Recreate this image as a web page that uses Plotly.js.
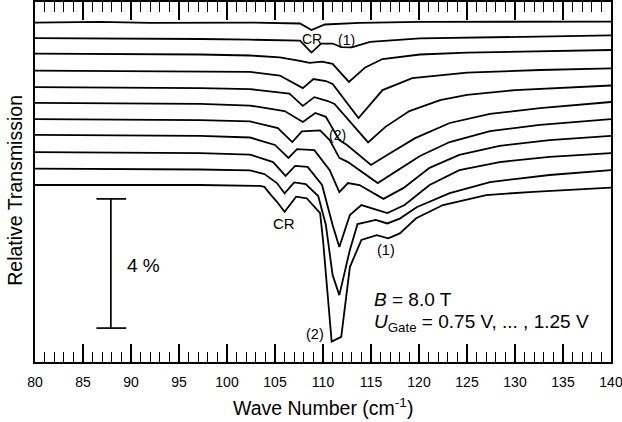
<!DOCTYPE html>
<html><head><meta charset="utf-8">
<script src="https://cdn.plot.ly/plotly-3.0.1.min.js"></script>
<style>html,body{margin:0;padding:0;background:#fff;} #chart{width:622px;height:422px;}</style>
</head><body><div id="chart"></div>
<script>
// Vertical offsets of the stacked spectra (%), top to bottom
const offsets = [10.5, 10.0, 9.5, 9.0, 8.5, 8.0, 7.5, 7.0, 6.5, 6.0, 5.5];

// Wave numbers (cm^-1) and transmission change (%) for each gate voltage, top to bottom
const wn1 = [80, 86.7, 92.0, 97.2, 102.4, 107.6, 108.8, 110.2, 113.8, 120.1, 128.4, 140];
const dT1 = [0.01, 0.03, 0.00, 0.01, 0.01, -0.02, -0.22, -0.05, 0.00, 0.03, 0.03, 0.04];
const wn2 = [80, 86.7, 92.0, 97.2, 102.4, 107.6, 108.8, 109.8, 111.0, 111.9, 113.0, 114.9, 120.1, 128.4, 140];
const dT2 = [0.03, 0.02, 0.02, 0.00, -0.02, -0.05, -0.42, -0.14, -0.14, -0.25, -0.26, -0.09, 0.02, 0.06, 0.11];
const wn3 = [80, 86.7, 92.0, 97.2, 102.4, 105.5, 107.6, 108.6, 109.9, 111.0, 112.7, 114.4, 116.2, 120.1, 125.0, 132.6, 140];
const dT3 = [0.05, 0.04, 0.04, 0.02, -0.01, -0.07, -0.18, -0.24, -0.20, -0.27, -0.83, -0.38, -0.12, 0.02, 0.08, 0.13, 0.16];
const wn4 = [80, 86.7, 92.0, 97.2, 102.4, 105.5, 107.9, 109.0, 110.3, 111.0, 113.7, 116.2, 119.3, 125.0, 132.6, 140];
const dT4 = [0.02, 0.01, 0.01, -0.01, -0.02, -0.13, -0.52, -0.24, -0.30, -0.39, -1.45, -0.58, -0.21, -0.04, 0.04, 0.09];
const wn5 = [80, 86.7, 92.0, 97.2, 102.4, 106.5, 107.9, 109.1, 110.5, 111.2, 114.7, 116.5, 119.0, 122.2, 125.0, 130.0, 140];
const dT5 = [0.01, 0.00, 0.00, -0.02, -0.05, -0.19, -0.57, -0.30, -0.42, -0.51, -1.70, -1.22, -0.73, -0.39, -0.23, -0.08, 0.06];
const wn6 = [80, 86.7, 92.0, 97.2, 102.4, 106.0, 107.9, 109.2, 110.3, 111.7, 112.5, 115.0, 117.2, 119.6, 123.2, 127.4, 132.6, 140];
const dT6 = [0.02, 0.00, 0.00, -0.01, -0.06, -0.23, -0.57, -0.29, -0.41, -1.13, -1.28, -1.90, -1.50, -1.07, -0.60, -0.32, -0.14, 0.05];
const wn7 = [80, 86.7, 92.0, 97.2, 102.4, 105.3, 106.8, 107.8, 109.7, 110.7, 111.7, 112.6, 115.7, 117.8, 120.1, 123.2, 127.4, 132.6, 140];
const dT7 = [0.02, 0.01, -0.01, -0.01, -0.05, -0.26, -0.69, -0.36, -0.33, -0.63, -1.18, -1.31, -1.96, -1.56, -1.12, -0.69, -0.35, -0.16, 0.02];
const wn8 = [80, 86.7, 92.0, 97.2, 102.4, 105.0, 106.4, 107.3, 109.1, 110.7, 111.7, 112.6, 113.8, 116.3, 118.4, 121.1, 124.2, 128.4, 133.6, 140];
const dT8 = [0.03, 0.01, 0.00, 0.00, -0.05, -0.28, -0.68, -0.41, -0.44, -1.06, -1.74, -1.46, -1.52, -1.95, -1.61, -0.99, -0.59, -0.31, -0.13, 0.00];
const wn9 = [80, 86.7, 92.0, 97.2, 102.4, 104.8, 106.1, 107.1, 108.4, 109.9, 111.0, 111.7, 112.8, 114.0, 116.7, 118.5, 121.1, 124.2, 128.4, 133.6, 140];
const dT9 = [0.00, -0.01, -0.01, -0.03, -0.08, -0.31, -0.74, -0.43, -0.46, -1.02, -2.26, -2.94, -1.95, -1.64, -1.89, -1.64, -1.02, -0.56, -0.31, -0.15, -0.03];
const wn10 = [80, 86.7, 92.0, 97.2, 102.4, 103.9, 105.2, 106.0, 107.0, 108.2, 109.5, 110.3, 111.0, 111.7, 112.8, 113.6, 115.5, 116.7, 118.0, 119.8, 123.2, 127.4, 133.6, 140];
const dT10 = [-0.01, -0.02, -0.02, -0.04, -0.07, -0.18, -0.46, -0.78, -0.44, -0.49, -0.86, -1.76, -3.31, -3.93, -2.53, -1.73, -1.60, -1.71, -1.56, -1.20, -0.77, -0.43, -0.21, -0.06];
const wn11 = [80, 86.7, 92.0, 97.2, 103.4, 103.9, 104.5, 105.2, 106.0, 107.2, 108.3, 109.7, 110.0, 110.9, 111.9, 112.8, 114.0, 115.6, 116.8, 118.0, 119.7, 122.5, 127.0, 131.9, 140];
const dT11 = [-0.02, -0.02, -0.02, -0.02, -0.05, -0.08, -0.30, -0.54, -0.85, -0.38, -0.43, -0.89, -1.72, -4.87, -4.72, -2.56, -1.72, -1.57, -1.67, -1.52, -1.05, -0.64, -0.33, -0.23, -0.10];

const xTickVals = [80, 85, 90, 95, 100, 105, 110, 115, 120, 125, 130, 135, 140];
const xTickText = ['80', '85', '90', '95', '100', '105', '110', '115', '120', '125', '130', '135', '140'];
const scaleBarPercent = 4;

const wnSets = [wn1, wn2, wn3, wn4, wn5, wn6, wn7, wn8, wn9, wn10, wn11];
const dTSets = [dT1, dT2, dT3, dT4, dT5, dT6, dT7, dT8, dT9, dT10, dT11];

const FONT = 'Liberation Sans, Arial, Helvetica, sans-serif';

const traces = wnSets.map((w, i) => ({
  x: w,
  y: dTSets[i].map(v => v + offsets[i]),
  type: 'scatter', mode: 'lines',
  line: {color: '#000', width: 1.8},
  hoverinfo: 'skip', showlegend: false
}));

const barX = 87.9, barY0 = 1.05;
const shapes = [
  {type: 'line', xref: 'x', yref: 'y', x0: barX, x1: barX, y0: barY0, y1: barY0 + scaleBarPercent, line: {color: '#000', width: 1.7}},
  {type: 'line', xref: 'x', yref: 'y', x0: 86.4, x1: 89.5, y0: barY0, y1: barY0, line: {color: '#000', width: 1.7}},
  {type: 'line', xref: 'x', yref: 'y', x0: 86.4, x1: 89.5, y0: barY0 + scaleBarPercent, y1: barY0 + scaleBarPercent, line: {color: '#000', width: 1.7}}
];

function ann(text, x, y, size, extra) {
  return Object.assign({text: text, x: x, y: y, xref: 'x', yref: 'y', showarrow: false,
    font: {family: FONT, size: size, color: '#000'}, xanchor: 'center', yanchor: 'middle'}, extra || {});
}

const annotations = [
  ann('CR', 108.9, 10.0, 14),
  ann('(1)', 112.4, 9.98, 14),
  ann('(2)', 111.5, 7.03, 14),
  ann('CR', 105.9, 4.29, 15),
  ann('(1)', 116.6, 3.47, 14.5),
  ann('(2)', 109.2, 0.88, 14.5),
  ann(scaleBarPercent + ' %', 89.4, 3.0, 19, {xanchor: 'left'}),
  ann('<i>B</i> = 8.0 T', 115.1, 1.92, 19, {xanchor: 'left'}),
  ann('<i>U</i><sub>Gate</sub> = 0.75 V, ... , 1.25 V', 115.1, 1.22, 19, {xanchor: 'left'}),
  {text: 'Wave Number (cm<sup>-1</sup>)', xref: 'paper', yref: 'paper', x: 0.5, y: -0.125,
   xanchor: 'center', yanchor: 'middle', showarrow: false, font: {family: FONT, size: 19.5, color: '#000'}},
  {text: 'Relative Transmission', xref: 'paper', yref: 'paper', x: -0.035, y: 0.478, textangle: -90,
   xanchor: 'center', yanchor: 'middle', showarrow: false, font: {family: FONT, size: 19.5, color: '#000'}}
];

const layout = {
  width: 622, height: 422,
  margin: {l: 35, r: 11, t: 2, b: 60},
  paper_bgcolor: '#fff', plot_bgcolor: '#fff',
  font: {family: FONT, color: '#000'},
  xaxis: {
    range: [79.999, 140.001], tickvals: xTickVals, ticktext: xTickText,
    ticks: 'inside', ticklen: 18, tickwidth: 1.5, tickcolor: '#000',
    minor: {ticks: 'inside', dtick: 1, ticklen: 10, tickwidth: 1.3, tickcolor: '#000', showgrid: false},
    showline: true, linecolor: '#000', linewidth: 1.7, mirror: 'allticks',
    showgrid: false, zeroline: false, tickfont: {family: FONT, size: 14, color: '#000'},
    ticklabelstandoff: 6, ticklabeloverflow: 'allow'
  },
  yaxis: {
    range: [0, 11.146], showticklabels: false, ticks: '',
    showline: true, linecolor: '#000', linewidth: 1.7, mirror: true,
    showgrid: false, zeroline: false
  },
  shapes: shapes,
  annotations: annotations
};

Plotly.newPlot('chart', traces, layout, {staticPlot: true, displayModeBar: false});
</script>
</body></html>
